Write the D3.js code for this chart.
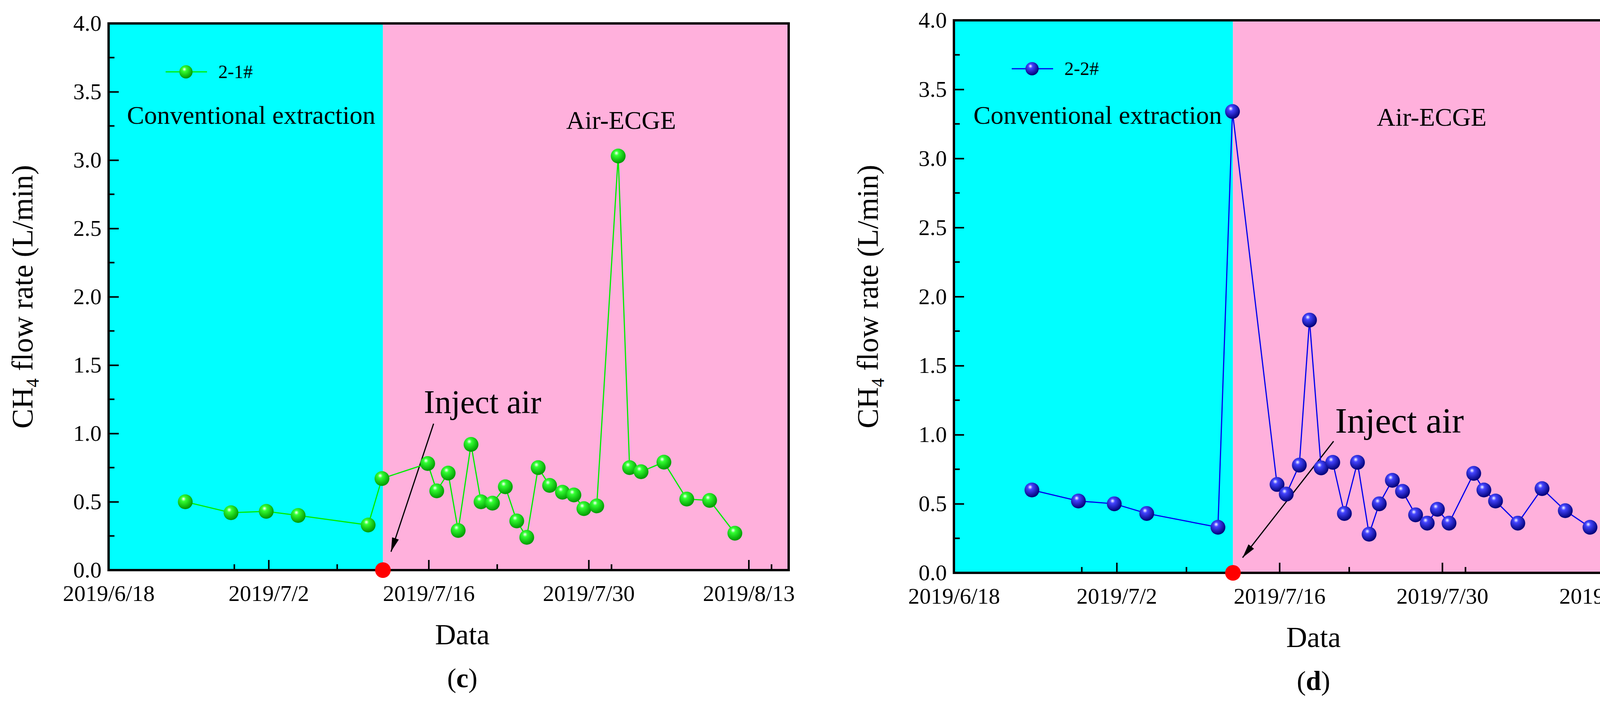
<!DOCTYPE html>
<html><head><meta charset="utf-8">
<script src="https://cdn.jsdelivr.net/npm/d3@7"></script>
<style>body{margin:0;background:#fff}svg{display:block}</style>
</head><body>
<script>
const datesC = ["2019-06-24T17:00","2019-06-28T17:00","2019-07-01T19:00","2019-07-04T14:00","2019-07-10T17:00","2019-07-11T22:00","2019-07-15T22:00","2019-07-16T17:00","2019-07-17T17:00","2019-07-18T14:00","2019-07-19T17:00","2019-07-20T14:00","2019-07-21T14:00","2019-07-22T17:00","2019-07-23T17:00","2019-07-24T14:00","2019-07-25T14:00","2019-07-26T14:00","2019-07-27T17:00","2019-07-28T17:00","2019-07-29T14:00","2019-07-30T17:00","2019-08-01T14:00","2019-08-02T14:00","2019-08-03T14:00","2019-08-05T14:00","2019-08-07T14:00","2019-08-09T14:00","2019-08-11T19:00"];
const valuesC = [0.50,0.42,0.43,0.40,0.33,0.67,0.78,0.58,0.71,0.29,0.92,0.50,0.49,0.61,0.36,0.24,0.75,0.62,0.57,0.55,0.45,0.47,3.03,0.75,0.72,0.79,0.52,0.51,0.27];
const datesD = ["2019-06-24T17:00","2019-06-28T17:00","2019-07-01T19:00","2019-07-04T14:00","2019-07-10T17:00","2019-07-11T23:00","2019-07-15T19:00","2019-07-16T14:00","2019-07-17T17:00","2019-07-18T14:00","2019-07-19T14:00","2019-07-20T14:00","2019-07-21T14:00","2019-07-22T17:00","2019-07-23T17:00","2019-07-24T14:00","2019-07-25T17:00","2019-07-26T14:00","2019-07-27T17:00","2019-07-28T17:00","2019-07-29T14:00","2019-07-30T14:00","2019-08-01T17:00","2019-08-02T14:00","2019-08-03T14:00","2019-08-05T12:00","2019-08-07T14:00","2019-08-09T14:00","2019-08-11T17:00"];
const valuesD = [0.60,0.52,0.50,0.43,0.33,3.34,0.64,0.57,0.78,1.83,0.76,0.80,0.43,0.80,0.28,0.50,0.67,0.59,0.42,0.36,0.46,0.36,0.72,0.60,0.52,0.36,0.61,0.45,0.33];
const xTickLabels = ["2019/6/18","2019/7/2","2019/7/16","2019/7/30","2019/8/13"];
const yTicks = [0,0.5,1,1.5,2,2.5,3,3.5,4];
const injectDate = "2019/7/12";

const svg = d3.select("body").append("svg").attr("width",4252).attr("height",1808);
const font = "'Liberation Serif','Times New Roman',serif";
const parse = d3.timeParse("%Y-%m-%dT%H:%M");
const pd = d3.timeParse("%Y/%m/%d");
const defs = svg.append("defs");
function grad(id, c){
  const g = defs.append("radialGradient").attr("id",id).attr("cx","40%").attr("cy","35%").attr("r","65%").attr("fx","38%").attr("fy","30%");
  g.append("stop").attr("offset","0%").attr("stop-color","#fff");
  g.append("stop").attr("offset","25%").attr("stop-color",c[0]);
  g.append("stop").attr("offset","100%").attr("stop-color",c[1]);
}
grad("gG",["#33ff33","#009900"]);
grad("gB",["#4444ff","#000077"]);

function panel(o){
  const g = svg.append("g");
  const x = d3.scaleTime().domain([new Date(2019,5,18), new Date(2019,7,16,12)]).range([o.x0,o.x1]);
  const y = d3.scaleLinear().domain([0,4]).range([o.y1,o.y0]);
  const xi = x(pd(injectDate));
  g.append("rect").attr("x",o.x0).attr("y",o.y0).attr("width",xi-o.x0).attr("height",o.y1-o.y0).attr("fill","#00ffff");
  g.append("rect").attr("x",xi).attr("y",o.y0).attr("width",o.x1-xi).attr("height",o.y1-o.y0).attr("fill","#ffb0dc");
  const xt = xTickLabels.map(pd);
  const xMinor = d3.timeDay.every(7).range(new Date(2019,5,18), new Date(2019,7,17)).filter((d,i)=>i%2===1);
  const xa = g.append("g").attr("transform",`translate(0,${o.y1})`)
    .call(d3.axisBottom(x).tickValues(xt).tickFormat(d3.timeFormat("%Y/%-m/%-d")).tickSizeInner(-26).tickSizeOuter(0).tickPadding(38));
  xa.selectAll("text").attr("font-family",font).attr("font-size",58).attr("fill","#000");
  xa.selectAll("line").attr("stroke-width",4);
  xa.select(".domain").remove();
  g.selectAll(".xm").data(xMinor).join("line").attr("x1",d=>x(d)).attr("x2",d=>x(d)).attr("y1",o.y1).attr("y2",o.y1-15).attr("stroke","#000").attr("stroke-width",4);
  const ya = g.append("g").attr("transform",`translate(${o.x0},0)`)
    .call(d3.axisLeft(y).tickValues(yTicks).tickFormat(d3.format(".1f")).tickSizeInner(-26).tickSizeOuter(0).tickPadding(18));
  ya.selectAll("text").attr("font-family",font).attr("font-size",58).attr("fill","#000");
  ya.selectAll("line").attr("stroke-width",4);
  ya.select(".domain").remove();
  g.selectAll(".ym").data(d3.range(0.25,4,0.5)).join("line").attr("x1",o.x0).attr("x2",o.x0+15).attr("y1",d=>y(d)).attr("y2",d=>y(d)).attr("stroke","#000").attr("stroke-width",4);
  g.append("rect").attr("x",o.x0).attr("y",o.y0).attr("width",o.x1-o.x0).attr("height",o.y1-o.y0).attr("fill","none").attr("stroke","#000").attr("stroke-width",6);
  const yt = g.append("text").attr("transform",`translate(${o.x0-195},${(o.y0+o.y1)/2}) rotate(-90)`).attr("text-anchor","middle")
    .attr("font-family",font).attr("font-size",76).attr("fill","#000");
  yt.append("tspan").text("CH");
  yt.append("tspan").text("4").attr("font-size",46).attr("dy",16);
  yt.append("tspan").text("  flow rate (L/min)").attr("dy",-16);
  g.append("text").attr("x",(o.x0+o.x1)/2+35).attr("y",o.y1+190).attr("text-anchor","middle").attr("font-family",font).attr("font-size",74).text("Data");
  const lab = g.append("text").attr("x",(o.x0+o.x1)/2+35).attr("y",o.y1+300).attr("text-anchor","middle").attr("font-family",font).attr("font-size",70);
  lab.append("tspan").text("(");
  lab.append("tspan").text(o.label).attr("font-weight","bold");
  lab.append("tspan").text(")");
  g.append("text").attr("x",o.convX).attr("y",317).attr("font-family",font).attr("font-size",66).text("Conventional extraction");
  g.append("text").attr("x",o.airX).attr("y",o.airY).attr("text-anchor","middle").attr("font-family",font).attr("font-size",66).text("Air-ECGE");
  g.append("text").attr("x",o.injX).attr("y",o.injY).attr("font-family",font).attr("font-size",o.injF).text("Inject air");
  const a = o.arrow;
  g.append("line").attr("x1",a[0]).attr("y1",a[1]).attr("x2",a[2]).attr("y2",a[3]).attr("stroke","#000").attr("stroke-width",3);
  const ang = Math.atan2(a[3]-a[1],a[2]-a[0]);
  const L=36,W=9;
  const p = [[a[2],a[3]],[a[2]-L*Math.cos(ang)+W*Math.sin(ang),a[3]-L*Math.sin(ang)-W*Math.cos(ang)],[a[2]-L*Math.cos(ang)-W*Math.sin(ang),a[3]-L*Math.sin(ang)+W*Math.cos(ang)]];
  g.append("polygon").attr("points",p.map(q=>q.join(",")).join(" ")).attr("fill","#000");
  const data = o.dates.map((d,i)=>({d:parse(d),v:o.values[i]}));
  g.append("path").datum(data).attr("d",d3.line().x(d=>x(d.d)).y(d=>y(d.v))).attr("fill","none").attr("stroke",o.color).attr("stroke-width",3);
  g.selectAll(".pt").data(data).join("circle").attr("cx",d=>x(d.d)).attr("cy",d=>y(d.v)).attr("r",19).attr("fill",`url(#${o.grad})`);
  g.append("circle").attr("cx",xi).attr("cy",y(0)).attr("r",20).attr("fill","#ff0000");
  g.append("line").attr("x1",o.legX).attr("x2",o.legX+106).attr("y1",o.legY).attr("y2",o.legY).attr("stroke",o.color).attr("stroke-width",3);
  g.append("circle").attr("cx",o.legX+52).attr("cy",o.legY).attr("r",17).attr("fill",`url(#${o.grad})`);
  g.append("text").attr("x",o.legX+135).attr("y",o.legY+16).attr("font-family",font).attr("font-size",48).text(o.name);
}
panel({x0:278,x1:2019,y0:60,y1:1460,label:"c",name:"2-1#",dates:datesC,values:valuesC,color:"#00ee00",grad:"gG",
  convX:325,airX:1590,airY:330,injX:1085,injY:1058,injF:84,arrow:[1110,1085,1001,1413],legX:424,legY:184});
panel({x0:2442,x1:4213,y0:52,y1:1467,label:"d",name:"2-2#",dates:datesD,values:valuesD,color:"#0000ee",grad:"gB",
  convX:2492,airX:3665,airY:322,injX:3418,injY:1108,injF:92,arrow:[3414,1130,3181,1428],legX:2590,legY:176});
</script>
</body></html>
